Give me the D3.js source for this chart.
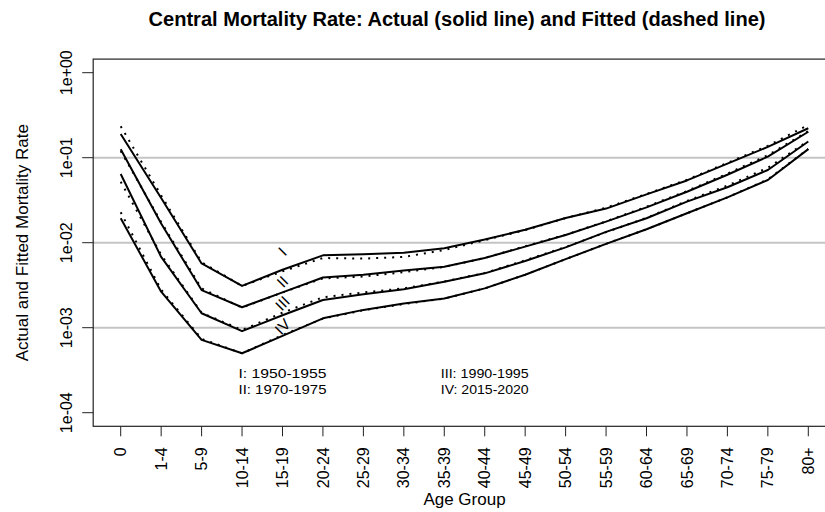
<!DOCTYPE html>
<html>
<head>
<meta charset="utf-8">
<script src="https://cdn.jsdelivr.net/npm/d3@7"></script>
<style>
  body { margin: 0; background: #fff; }
  text { font-family: "Liberation Sans", Arial, Helvetica, sans-serif; fill: #000; }
</style>
</head>
<body>
<div id="chart"></div>
<script>
var ageGroups = ["0","1-4","5-9","10-14","15-19","20-24","25-29","30-34","35-39","40-44",
  "45-49","50-54","55-59","60-64","65-69","70-74","75-79","80+"];

var actualI   = [0.19, 0.0335, 0.0057, 0.0031, 0.0048, 0.0071, 0.0073, 0.0076, 0.0086, 0.0109,
  0.0142, 0.0195, 0.0252, 0.037, 0.054, 0.085, 0.134, 0.222];
var fittedI   = [0.235, 0.036, 0.0059, 0.0031, 0.0046, 0.0066, 0.0065, 0.0068, 0.0082, 0.0107,
  0.0141, 0.0195, 0.0258, 0.0375, 0.055, 0.087, 0.138, 0.243];
var actualII  = [0.126, 0.0168, 0.00277, 0.00174, 0.0026, 0.0039, 0.0042, 0.0047, 0.0052, 0.0066,
  0.009, 0.0123, 0.0177, 0.026, 0.0398, 0.063, 0.103, 0.202];
var fittedII  = [0.12, 0.0175, 0.0029, 0.00172, 0.0026, 0.0038, 0.004, 0.0045, 0.0052, 0.0066,
  0.0091, 0.0124, 0.0178, 0.0265, 0.0405, 0.065, 0.107, 0.205];
var actualIII = [0.0643, 0.0068, 0.00148, 0.00091, 0.0014, 0.00212, 0.00247, 0.00283, 0.00348, 0.00436,
  0.0061, 0.0088, 0.0134, 0.0194, 0.0304, 0.0449, 0.0717, 0.155];
var fittedIII = [0.052, 0.0072, 0.0015, 0.00094, 0.0015, 0.00228, 0.0026, 0.0029, 0.0035, 0.0044,
  0.0062, 0.0089, 0.0133, 0.0196, 0.031, 0.047, 0.076, 0.158];
var actualIV  = [0.0194, 0.00265, 0.00072, 0.0005, 0.0008, 0.00129, 0.00162, 0.00193, 0.0022, 0.0029,
  0.0042, 0.0064, 0.0097, 0.0144, 0.0222, 0.0342, 0.0547, 0.126];
var fittedIV  = [0.0228, 0.0028, 0.00074, 0.0005, 0.00082, 0.00128, 0.0016, 0.0019, 0.0022, 0.0029,
  0.0042, 0.0064, 0.0097, 0.0144, 0.0222, 0.0342, 0.0555, 0.127];

var periods = ["I","II","III","IV"];
var periodLabelY = [0.0079, 0.00348, 0.00194, 0.00103];
var legendLeft = ["I: 1950-1955","II: 1970-1975"];
var legendRight = ["III: 1990-1995","IV: 2015-2020"];
var yTicks = [1e-4, 1e-3, 1e-2, 1e-1, 1];
var yTickLabels = ["1e-04","1e-03","1e-02","1e-01","1e+00"];
var gridLines = [1e-3, 1e-2, 1e-1];

var W = 825, H = 512;
var x = d3.scaleLinear().domain([0, ageGroups.length - 1]).range([120.7, 808.3]);
var y = d3.scaleLog().domain([1e-4, 1]).range([412.7, 72.7]);
var pad = (ageGroups.length - 1) * 0.04;
var box = {left: x(-pad), right: x(ageGroups.length - 1 + pad), top: y(Math.pow(10, 0.16)), bottom: y(Math.pow(10, -4.16))};

var svg = d3.select("#chart").append("svg")
  .attr("width", W).attr("height", H);

svg.append("g").selectAll("line").data(gridLines).enter()
  .append("line")
  .attr("x1", box.left).attr("x2", box.right)
  .attr("y1", function(d){ return y(d); }).attr("y2", function(d){ return y(d); })
  .attr("stroke", "#c4c4c4").attr("stroke-width", 2);

var line = d3.line()
  .x(function(d, i){ return x(i); })
  .y(function(d){ return y(d); });

var actual = [actualI, actualII, actualIII, actualIV];
var fitted = [fittedI, fittedII, fittedIII, fittedIV];

svg.append("g").selectAll("path").data(actual).enter()
  .append("path")
  .attr("d", line)
  .attr("fill", "none").attr("stroke", "#000").attr("stroke-width", 2)
  .attr("stroke-linejoin", "round");

svg.append("g").selectAll("path").data(fitted).enter()
  .append("path")
  .attr("d", line)
  .attr("fill", "none").attr("stroke", "#000").attr("stroke-width", 2)
  .attr("stroke-dasharray", "2,6");

svg.append("rect")
  .attr("x", box.left).attr("y", box.top)
  .attr("width", box.right - box.left).attr("height", box.bottom - box.top)
  .attr("fill", "none").attr("stroke", "#222").attr("stroke-width", 1.2);

// axes
var xAxis = svg.append("g").attr("transform", "translate(0," + box.bottom + ")");
xAxis.selectAll("line").data(ageGroups).enter()
  .append("line")
  .attr("x1", function(d, i){ return x(i); }).attr("x2", function(d, i){ return x(i); })
  .attr("y1", 0).attr("y2", 10)
  .attr("stroke", "#222");
xAxis.selectAll("text").data(ageGroups).enter()
  .append("text")
  .attr("transform", function(d, i){ return "translate(" + x(i) + ",21) rotate(-90)"; })
  .attr("dy", "0.35em")
  .attr("font-size", "16px")
  .style("text-anchor", "end")
  .text(function(d){ return d; });

var yAxis = svg.append("g").attr("transform", "translate(" + box.left + ",0)");
yAxis.selectAll("line").data(yTicks).enter()
  .append("line")
  .attr("x1", -11).attr("x2", 0)
  .attr("y1", function(d){ return y(d); }).attr("y2", function(d){ return y(d); })
  .attr("stroke", "#222");
yAxis.selectAll("text").data(yTicks).enter()
  .append("text")
  .attr("transform", function(d){ return "translate(-21.5," + y(d) + ") rotate(-90)"; })
  .attr("font-size", "16px")
  .style("text-anchor", "middle")
  .text(function(d, i){ return yTickLabels[i]; });

svg.append("text")
  .attr("x", 457).attr("y", 26)
  .attr("font-size", "19.5px").attr("font-weight", "bold")
  .attr("textLength", 617).attr("lengthAdjust", "spacingAndGlyphs")
  .style("text-anchor", "middle")
  .text("Central Mortality Rate: Actual (solid line) and Fitted (dashed line)");

svg.append("text")
  .attr("x", (box.left + box.right) / 2).attr("y", 505)
  .attr("font-size", "17px")
  .style("text-anchor", "middle")
  .text("Age Group");

svg.append("text")
  .attr("transform", "translate(28.3," + (box.top + box.bottom) / 2 + ") rotate(-90)")
  .attr("font-size", "17px")
  .style("text-anchor", "middle")
  .text("Actual and Fitted Mortality Rate");

svg.append("g").selectAll("text").data(periods).enter()
  .append("text")
  .attr("transform", function(d, i){ return "translate(" + x(4) + "," + y(periodLabelY[i]) + ") rotate(-45)"; })
  .attr("dy", "0.35em")
  .attr("font-size", "15.5px")
  .style("text-anchor", "middle")
  .text(function(d){ return d; });

var legends = [{col: 4, rows: legendLeft}, {col: 9, rows: legendRight}];
legends.forEach(function(d){
  d.rows.forEach(function(r, i){
    svg.append("text")
      .attr("x", x(d.col)).attr("y", 378 + 15.5 * i)
      .attr("font-size", "13.5px")
      .attr("textLength", 88).attr("lengthAdjust", "spacingAndGlyphs")
      .style("text-anchor", "middle")
      .text(r);
  });
});
</script>
</body>
</html>
